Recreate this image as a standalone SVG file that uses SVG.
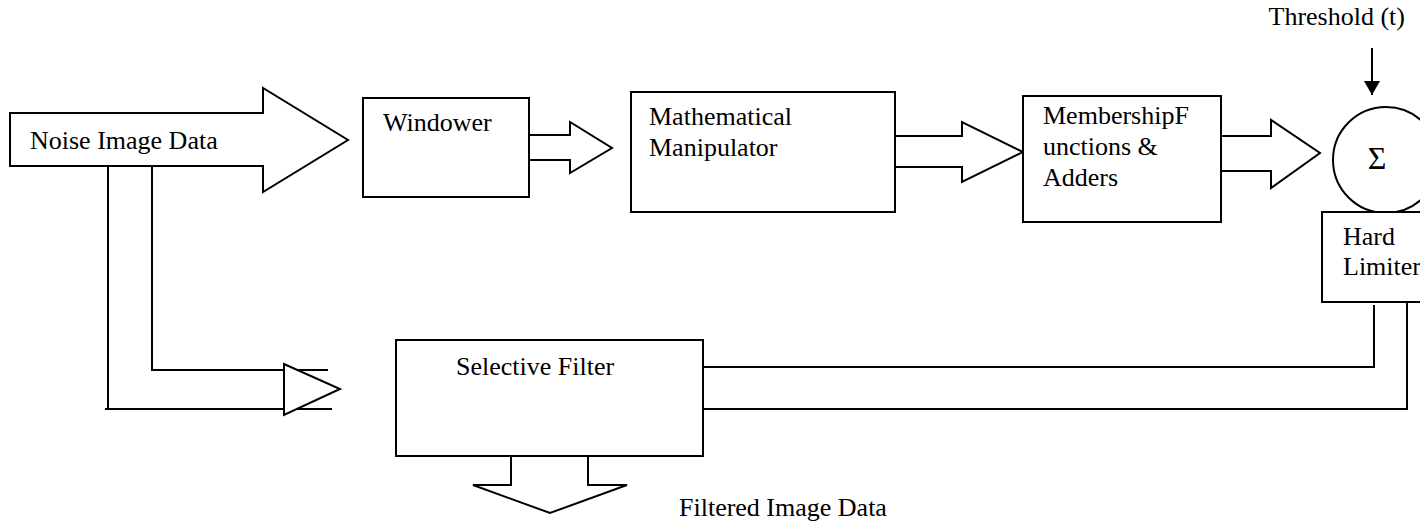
<svg xmlns="http://www.w3.org/2000/svg" width="1420" height="525" viewBox="0 0 1420 525">
<style>
.s{fill:#fff;stroke:#000;stroke-width:2}
.l{fill:none;stroke:#000;stroke-width:2}
.t{font-family:"Liberation Serif","Times New Roman",serif;font-size:26px;fill:#000}
</style>
<defs>
<marker id="ah" markerWidth="14" markerHeight="16" refX="14" refY="8" orient="auto" markerUnits="userSpaceOnUse">
<path d="M0,0 L14,8 L0,16 Z" fill="#000"/>
</marker>
</defs>
<rect width="1420" height="525" fill="#fff"/>
<g id="connectors">
<polyline class="l" points="108,166 108,409"/>
<polyline class="l" points="152,166 152,370"/>
<line class="l" x1="151" y1="370" x2="328" y2="370"/>
<line class="l" x1="105" y1="409" x2="332" y2="409"/>
<polygon class="s" points="284,364 340,389 284,415"/>
<polygon class="s" points="529,135 570,135 570,122 612,148 570,173 570,160 529,160"/>
<polygon class="s" points="895,136 962,136 962,122 1023,152 962,182 962,167 895,167"/>
<polygon class="s" points="1221,136 1271,136 1271,120 1320,153 1271,188 1271,171 1221,171"/>
<line class="l" x1="1372" y1="48" x2="1372" y2="95" marker-end="url(#ah)"/>
<polyline class="l" points="703,367 1374,367 1374,305"/>
<polyline class="l" points="702,409 1407,409 1407,302"/>
<polygon class="s" points="511,456 588,456 588,485 627,485 550,513 473,485 511,485"/>
</g>
<g id="noise">
<polygon class="s" points="10,113 263,113 263,88 348,140 263,192 263,166 10,166"/>
<text class="t" x="30" y="149">Noise Image Data</text>
</g>
<g id="windower">
<rect class="s" x="363" y="98" width="166" height="99"/>
<text class="t" x="383" y="131">Windower</text>
</g>
<g id="math">
<rect class="s" x="631" y="92" width="264" height="120"/>
<text class="t" x="649" y="125">Mathematical</text>
<text class="t" x="649" y="156">Manipulator</text>
</g>
<g id="membership">
<rect class="s" x="1023" y="96" width="198" height="126"/>
<text class="t" x="1043" y="124">MembershipF</text>
<text class="t" x="1043" y="155">unctions &amp;</text>
<text class="t" x="1043" y="186">Adders</text>
</g>
<g id="sum">
<circle class="s" cx="1386" cy="160" r="53"/>
<text class="t" x="1377" y="169" text-anchor="middle" style="font-size:32px">Σ</text>
</g>
<g id="threshold">
<text class="t" x="1405" y="25" text-anchor="end">Threshold (t)</text>
</g>
<g id="hardlimiter">
<rect class="s" x="1322" y="212" width="120" height="90"/>
<text class="t" x="1343" y="245">Hard</text>
<text class="t" x="1343" y="275">Limiter</text>
</g>
<g id="selective">
<rect class="s" x="396" y="340" width="307" height="116"/>
<text class="t" x="456" y="375">Selective Filter</text>
</g>
<g id="filtered">
<text class="t" x="679" y="516">Filtered Image Data</text>
</g>
</svg>
